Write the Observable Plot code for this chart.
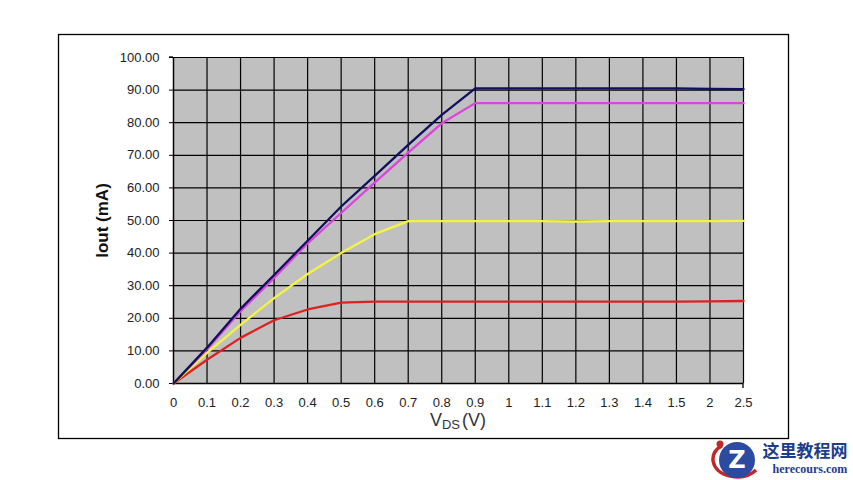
<!DOCTYPE html>
<html>
<head>
<meta charset="utf-8">
<script src="https://cdn.jsdelivr.net/npm/d3@7"></script>
<script src="https://cdn.jsdelivr.net/npm/@observablehq/plot@0.6"></script>
<style>
  html, body { margin: 0; padding: 0; background: #fff; }
  svg { display: block; }
</style>
</head>
<body>
<div id="chart"></div>
<script>
const vds = ["0","0.1","0.2","0.3","0.4","0.5","0.6","0.7","0.8","0.9","1","1.1","1.2","1.3","1.4","1.5","2","2.5"];
const yTicks = [0,10,20,30,40,50,60,70,80,90,100];
const navySeries    = [0,11.0,22.9,33.3,43.8,54.3,63.7,73.2,82.4,90.5,90.5,90.5,90.5,90.5,90.5,90.5,90.4,90.3];
const magentaSeries = [0,10.5,22.2,32.4,43.0,52.3,61.6,70.8,79.8,86.0,86.0,86.0,86.0,86.0,86.0,86.0,86.0,86.0];
const yellowSeries  = [0,9.4,18.0,26.2,33.6,40.0,45.8,49.8,49.8,49.8,49.8,49.8,49.7,49.8,49.8,49.8,49.8,49.9];
const redSeries     = [0,7.3,14.0,19.4,22.7,24.8,25.1,25.1,25.1,25.1,25.1,25.1,25.1,25.1,25.1,25.1,25.2,25.3];

const series = [
  {name: "s1", values: redSeries, color: "#dd2020"},
  {name: "s2", values: yellowSeries, color: "#f4f440"},
  {name: "s3", values: magentaSeries, color: "#dd44dd"},
  {name: "s4", values: navySeries, color: "#10105e"}
];
const rows = series.flatMap(s => s.values.map((v, i) => ({series: s.name, x: vds[i], y: v, color: s.color})));

const W = 853, H = 480;
const chart = Plot.plot({
  width: W,
  height: H,
  marginLeft: 173,
  marginRight: 110,
  marginTop: 57,
  marginBottom: 97,
  style: {fontFamily: "'Liberation Sans', Arial, sans-serif", fontSize: "13px", background: "#fff", overflow: "visible"},
  x: {type: "point", domain: vds, padding: 0, round: false},
  y: {domain: [0, 100]},
  marks: [
    Plot.frame({fill: "#c0c0c0", stroke: null}),
    Plot.gridX(vds, {stroke: "#000", strokeOpacity: 1, strokeWidth: 1.2}),
    Plot.gridY(yTicks, {stroke: "#000", strokeOpacity: 1, strokeWidth: 1.2}),
    Plot.axisY(yTicks, {tickFormat: d3.format(".2f"), tickSize: 4, tickPadding: 10, label: null, fill: "#222", stroke: "#000"}),
    Plot.axisX(vds, {tickSize: 0, tickPadding: 14, label: null, fill: "#222"}),
    Plot.ruleX([vds[0]], {stroke: "#000", strokeWidth: 1.3}),
    Plot.ruleY([0], {stroke: "#000", strokeWidth: 1.3}),
    Plot.line(rows, {x: "x", y: "y", z: "series", stroke: "color", strokeWidth: 2.3, curve: "linear"}),
    Plot.text(["Iout (mA)"], {frameAnchor: "left", dx: -71, rotate: -90, fontSize: 17, fontWeight: "bold", fill: "#111", textAnchor: "middle"})
  ]
});
document.getElementById("chart").appendChild(chart);

// decorations: outer frame, x-axis title with subscript, watermark
const svg = d3.select(chart);
svg.insert("rect", ":first-child")
  .attr("x", 58.5).attr("y", 34.5).attr("width", 730).attr("height", 404)
  .attr("fill", "none").attr("stroke", "#000").attr("stroke-width", 1.3);

// end tick stubs
svg.append("line").attr("x1", 169).attr("x2", 173).attr("y1", 57).attr("y2", 57).attr("stroke", "#000").attr("stroke-width", 1.3);
svg.append("line").attr("x1", 743).attr("x2", 743).attr("y1", 383).attr("y2", 388).attr("stroke", "#000").attr("stroke-width", 1.3);

const xt = svg.append("text")
  .attr("x", 458).attr("y", 426)
  .attr("text-anchor", "middle")
  .attr("fill", "#333")
  .style("font-family", "'Liberation Sans', Arial, sans-serif")
  .style("font-size", "18px");
xt.append("tspan").text("V");
xt.append("tspan").attr("dy", 3).style("font-size", "13px").text("DS");
xt.append("tspan").attr("dy", -3).attr("dx", 2).text("(V)");

// watermark logo
const g = svg.append("g");
g.append("path").attr("d", "M722,446 C708,452 710,472 730,476 C745,479 752,474 756,470")
  .attr("fill", "none").attr("stroke", "#c0282a").attr("stroke-width", 3.5);
g.append("circle").attr("cx", 737).attr("cy", 460).attr("r", 18).attr("fill", "#2b4aa0");
g.append("text").attr("x", 737).attr("y", 468).attr("text-anchor", "middle")
  .attr("fill", "#fff").style("font-family", "'DejaVu Sans', sans-serif").style("font-weight", "bold").style("font-size", "24px").text("Z");
g.append("circle").attr("cx", 720).attr("cy", 444).attr("r", 3.5).attr("fill", "#c0282a");
g.append("text").attr("x", 805).attr("y", 457).attr("text-anchor", "middle")
  .attr("fill", "#1e3c8c").style("font-family", "'Noto Sans CJK SC', sans-serif").style("font-weight", "bold").style("font-size", "17px").text("这里教程网");
g.append("text").attr("x", 810).attr("y", 473).attr("text-anchor", "middle")
  .attr("fill", "#1e3c8c").style("font-family", "'Liberation Serif', serif").style("font-weight", "bold").style("font-size", "12px").text("herecours.com");
</script>
</body>
</html>
